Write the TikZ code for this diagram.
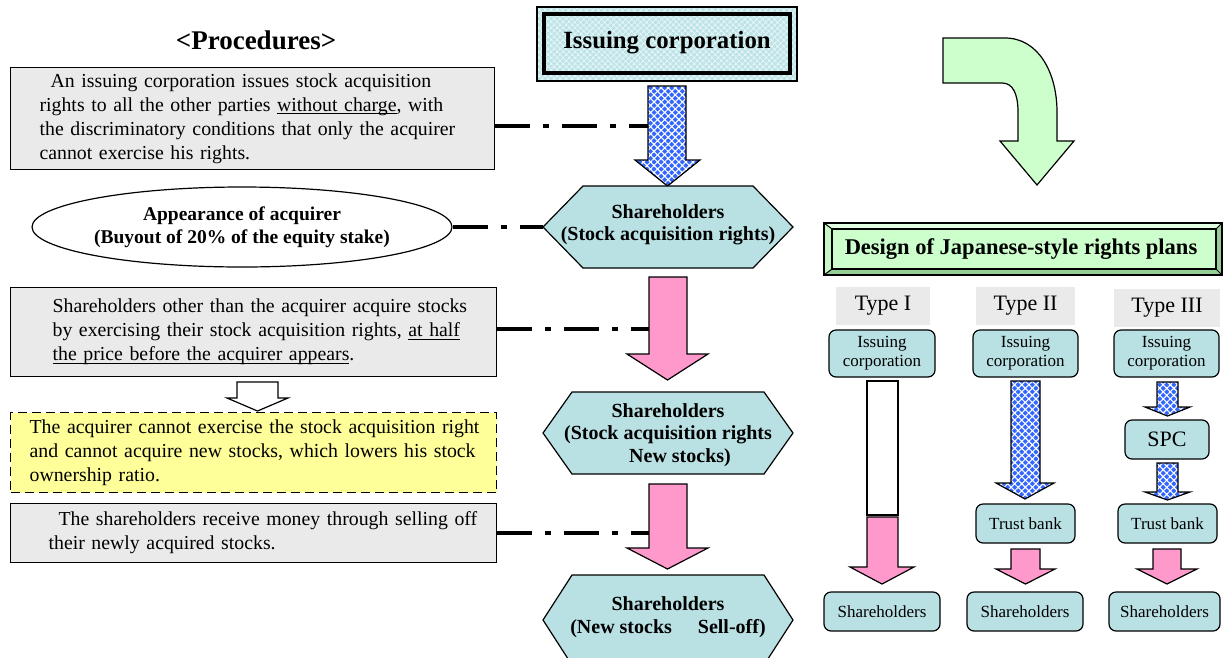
\documentclass[tikz,border=0pt]{standalone}
\usepackage{fontspec}
\setmainfont{Liberation Serif}
\usetikzlibrary{shapes.geometric,patterns.meta}

\definecolor{boxgrey}{RGB}{234,234,234}
\definecolor{sharecyan}{RGB}{185,224,227}
\definecolor{notepale}{RGB}{255,255,153}
\definecolor{pinkarrow}{RGB}{255,153,204}
\definecolor{bluearrow}{RGB}{51,102,255}
\definecolor{mint}{RGB}{204,255,204}
\definecolor{mintdark}{RGB}{150,205,150}
\definecolor{mintlight}{RGB}{226,255,226}
\definecolor{iceblue}{RGB}{190,228,231}

% underlined words with a rule just below the baseline
\newcommand\ulinetext[1]{\setbox0\hbox{#1}\rlap{\rule[-2.8pt]{\wd0}{0.9pt}}\box0}

% block arrow: style, shaft left, shaft right, top, head base, head left, head right, tip
\newcommand\blockarrow[8]{%
  \draw[#1] (#2,#4) -- (#3,#4) -- (#3,#5) -- (#7,#5) -- ({(#6+#7)/2},#8)
    -- (#6,#5) -- (#2,#5) -- cycle;}

% hexagon: name, centre x, centre y, half width, half height, inset
\newcommand\hexagonbox[6]{%
  \draw[hexfill] (#2-#4,#3) -- (#2-#4+#6,#3-#5) -- (#2+#4-#6,#3-#5) -- (#2+#4,#3)
    -- (#2+#4-#6,#3+#5) -- (#2-#4+#6,#3+#5) -- cycle;
  \coordinate (#1-w) at (#2-#4,#3);}

\tikzset{
  bodytext/.style={font=\fontsize{19.8}{24}\selectfont, align=left, inner ysep=0pt},
  greybox/.style={bodytext, draw, line width=1.2pt, fill=boxgrey, rectangle},
  notebox/.style={bodytext, draw, line width=1.3pt, dash pattern=on 9pt off 5pt,
    fill=notepale, rectangle},
  linkline/.style={line width=4pt, dash pattern=on 35pt off 13pt on 6pt off 13pt},
  hexfill/.style={draw, line width=1.2pt, fill=sharecyan},
  hextext/.style={font=\fontsize{20}{22.5}\selectfont\bfseries, align=center, inner sep=0pt},
  bluearr/.style={preaction={fill=bluearrow},
    preaction={pattern={Hatch[angle=45,distance=5pt,line width=1.1pt]}, pattern color=white},
    draw, line width=1.2pt},
  pinkarr/.style={draw, line width=1.2pt, fill=pinkarrow},
  hollowarr/.style={draw, line width=1.2pt, fill=white},
  typelabel/.style={fill=boxgrey, font=\fontsize{22}{26}\selectfont, inner sep=0pt},
  partybox/.style={draw, line width=1.2pt, fill=sharecyan, rounded corners=7pt,
    font=\fontsize{17}{19}\selectfont, align=center, inner sep=0pt},
}

\begin{document}
\begin{tikzpicture}[x=1pt,y=-1pt]
\useasboundingbox (0,0) rectangle (1223,657);
\clip (0,0) rectangle (1223,657);

% ---------- left column: procedures ----------
\node[font=\fontsize{27}{30}\selectfont\bfseries] (title) at (256,40) {<Procedures>};

\node[greybox, anchor=north west, minimum width=484pt, minimum height=102pt,
      text width=426pt, inner xsep=29pt] (proc1) at (10,67)
  {\mbox{\hspace{11pt}An issuing corporation issues stock acquisition}\\
   \mbox{rights to all the other parties \ulinetext{without charge}, with}\\
   \mbox{the discriminatory conditions that only the acquirer}\\
   \mbox{cannot exercise his rights.}};

\node[ellipse, draw, line width=1.2pt, fill=white, minimum width=420pt, minimum height=80pt,
      font=\fontsize{19.5}{23}\selectfont\bfseries, align=center, inner sep=0pt] (acq) at (242,227)
  {Appearance of acquirer\\(Buyout of 20\% of the equity stake)};

\node[greybox, anchor=north west, minimum width=486pt, minimum height=89pt,
      text width=402pt, inner xsep=42pt] (proc2) at (10,287)
  {\mbox{Shareholders other than the acquirer acquire stocks}\\
   \mbox{by exercising their stock acquisition rights, \ulinetext{at half}}\\
   \mbox{\ulinetext{the price before the acquirer appears}.}};

\blockarrow{hollowarr}{237}{278}{382}{398}{227}{288}{411}

\node[notebox, anchor=north west, minimum width=486pt, minimum height=80pt,
      text width=448pt, inner xsep=19pt] (effect) at (10,412)
  {\mbox{The acquirer cannot exercise the stock acquisition right}\\
   \mbox{and cannot acquire new stocks, which lowers his stock}\\
   \mbox{ownership ratio.}};

\node[greybox, anchor=north west, minimum width=486pt, minimum height=59pt,
      text width=410pt, inner xsep=38pt] (proc3) at (10,503)
  {\mbox{\hspace{10pt}The shareholders receive money through selling off}\\
   \mbox{their newly acquired stocks.}};

% ---------- centre column: flow of rights and stocks ----------
\path[fill=iceblue, postaction={pattern={Hatch[angle=45,distance=4pt,line width=0.8pt]},
      pattern color=white!70!iceblue}]
  (537,7) rectangle (797,81);
\draw[line width=1.2pt] (537,7) rectangle (797,81);
\node[draw, line width=4pt, minimum width=246pt, minimum height=59pt,
      font=\fontsize{24.8}{28}\selectfont\bfseries] (issuer) at (667,43) {Issuing corporation};

\blockarrow{bluearr}{648}{686}{86}{160}{635}{700}{186}
\coordinate (arr1w) at (648,126);

\hexagonbox{hexa}{668}{227}{125}{41}{40}
\node[hextext] (hex1) at (668,225) {Shareholders\\(Stock acquisition rights)};

\blockarrow{pinkarr}{649}{687}{277}{354}{627}{708}{380}
\coordinate (arr2w) at (649,329);

\hexagonbox{hexb}{668}{433}{125}{41}{29}
\node[hextext] (hex2) at (668,435)
  {Shareholders\\(Stock acquisition rights\\\hspace*{24pt}New stocks)};

\blockarrow{pinkarr}{649}{687}{484}{548}{627}{708}{569}
\coordinate (arr3w) at (649,533);

\hexagonbox{hexc}{668}{620}{125}{45}{29}
\node[hextext] (hex3) at (668,617) {Shareholders\\(New stocks\hspace{26pt}Sell-off)};

% dash-dot links between procedures and the flow
\draw[linkline] (proc1.east |- arr1w) -- (arr1w);
\draw[linkline] (acq.east) -- (hexa-w);
\draw[linkline] (proc2.east |- arr2w) -- (arr2w);
\draw[linkline] (proc3.east |- arr3w) -- (arr3w);

% ---------- right column: rights plan types ----------
\draw[line width=1.2pt, fill=mint]
  (943,38) -- (1005,38) .. controls (1038,38) and (1057,72) .. (1057,112)
  -- (1057,141) -- (1074,141) -- (1037,185) -- (1000,141) -- (1018,141)
  -- (1018,112) .. controls (1018,94) and (1013,83) .. (1002,83)
  -- (943,83) -- cycle;

% bevelled banner
\fill[mint] (832,229) rectangle (1216,269);
\fill[mintlight] (824,223) -- (1222,223) -- (1216,229) -- (832,229) -- cycle;
\fill[mint!85!mintdark] (824,223) -- (832,229) -- (832,269) -- (824,275) -- cycle;
\fill[mintdark] (824,275) -- (832,269) -- (1216,269) -- (1222,275) -- cycle;
\fill[mintdark] (1222,223) -- (1216,229) -- (1216,269) -- (1222,275) -- cycle;
\draw[line width=1.2pt] (824,223) rectangle (1222,275);
\draw[line width=1.2pt] (832,229) rectangle (1216,269);
\draw[line width=1pt] (824,223) -- (832,229) (1222,223) -- (1216,229)
  (824,275) -- (832,269) (1222,275) -- (1216,269);
\node[font=\fontsize{22.5}{26}\selectfont\bfseries] (banner) at (1021,249)
  {Design of Japanese-style rights plans};

% type headings
\node[typelabel, minimum width=94pt, minimum height=38pt] (type1) at (883,306) {Type I};
\node[typelabel, minimum width=99pt, minimum height=38pt] (type2) at (1025.5,306) {Type II};
\node[typelabel, minimum width=106pt, minimum height=38pt] (type3) at (1167,308) {Type III};

% issuing corporations
\node[partybox, minimum width=106pt, minimum height=47pt] (iss1) at (882,353.5) {Issuing\\corporation};
\node[partybox, minimum width=105pt, minimum height=47pt] (iss2) at (1025.5,353.5) {Issuing\\corporation};
\node[partybox, minimum width=105pt, minimum height=47pt] (iss3) at (1166.5,353.5) {Issuing\\corporation};

% Type I
\draw[line width=1.2pt, fill=white] (867,381) rectangle (898,515);
\blockarrow{pinkarr}{867}{898}{517}{567}{850}{914}{584}
\node[partybox, minimum width=116pt, minimum height=39pt] (sh1) at (882,611.5) {Shareholders};

% Type II
\blockarrow{bluearr}{1011}{1040}{381}{483}{996}{1054}{499}
\node[partybox, minimum width=99pt, minimum height=39pt] (tb2) at (1025.5,523.5) {Trust bank};
\blockarrow{pinkarr}{1011}{1040}{549}{569}{996}{1055}{584}
\node[partybox, minimum width=116pt, minimum height=39pt] (sh2) at (1025,611.5) {Shareholders};

% Type III
\blockarrow{bluearr}{1157}{1178}{382}{407}{1145}{1190}{416}
\node[partybox, minimum width=84pt, minimum height=39pt, font=\fontsize{22}{26}\selectfont]
  (spc) at (1167,439.5) {SPC};
\blockarrow{bluearr}{1157}{1178}{463}{492}{1145}{1190}{500}
\node[partybox, minimum width=99pt, minimum height=39pt] (tb3) at (1167.5,523.5) {Trust bank};
\blockarrow{pinkarr}{1153}{1181}{549}{569}{1137}{1197}{584}
\node[partybox, minimum width=111pt, minimum height=39pt] (sh3) at (1164.5,611.5) {Shareholders};

\end{tikzpicture}
\end{document}
